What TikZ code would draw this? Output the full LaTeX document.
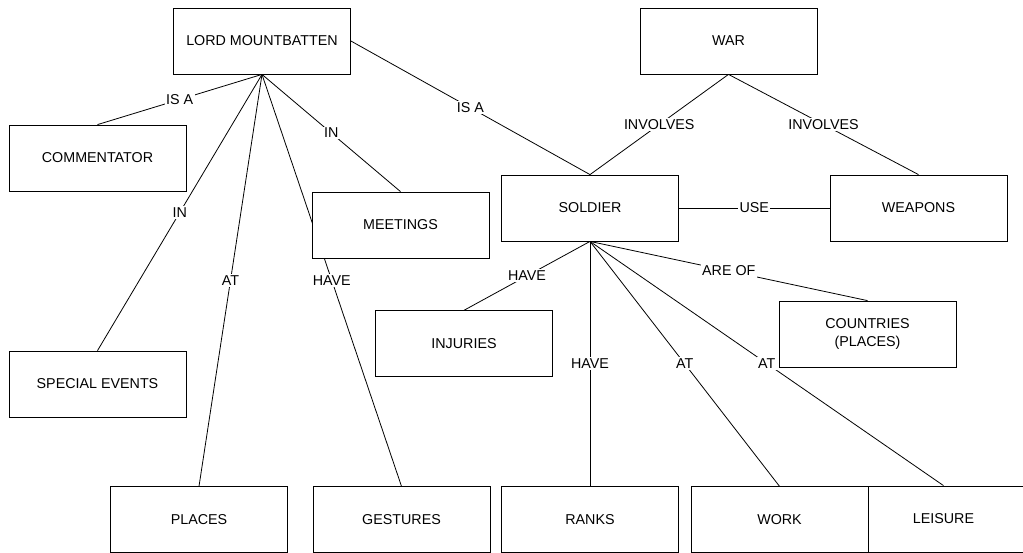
\documentclass[tikz,border=0pt]{standalone}
\usepackage{fontspec}
\setmainfont{Liberation Sans}
\begin{document}
\begin{tikzpicture}[x=1pt,y=-1pt,
  concept/.style={draw=black, line width=0.8pt, fill=white, minimum width=177pt, minimum height=66pt,
    inner sep=0pt, align=center, font=\fontsize{14.3}{17.7}\selectfont},
  link/.style={draw=black, line width=0.8pt},
  rel/.style={fill=white, inner sep=1.5pt, font=\fontsize{14.3}{17}\selectfont}]
\useasboundingbox (0,0) rectangle (1023,552);
\clip (0,0) rectangle (1023,552);

% concept boxes (LEISURE first so WORK overlaps it)
\node[concept] (lord) at (262,41) {LORD MOUNTBATTEN};
\node[concept] (war) at (728.5,41) {WAR};
\node[concept] (comm) at (97.5,158) {COMMENTATOR};
\node[concept] (special) at (97.5,384) {SPECIAL EVENTS};
\node[concept] (soldier) at (590,208) {SOLDIER};
\node[concept] (weapons) at (918.5,208) {WEAPONS};
\node[concept] (injuries) at (464,343.7) {INJURIES};
\node[concept] (countries) at (867.5,334) {COUNTRIES\\(PLACES)};
\node[concept] (places) at (199,519.7) {PLACES};
\node[concept] (gestures) at (401.5,519.7) {GESTURES};
\node[concept] (ranks) at (590,519.7) {RANKS};
\node[concept] (leisure) at (943.5,519) {LEISURE};
\node[concept] (work) at (779.5,519.7) {WORK};

% the HAVE link runs behind the MEETINGS box
\path[link] (lord.south) -- (gestures.north) node[rel, pos=0.5] {HAVE};
\node[concept] (meetings) at (400.5,225) {MEETINGS};

% links from LORD MOUNTBATTEN
\path[link] (lord.south) -- (comm.north) node[rel, pos=0.5] {IS A};
\path[link] (lord.south) -- (special.north) node[rel, pos=0.5] {IN};
\path[link] (lord.south) -- (places.north) node[rel, pos=0.5] {AT};
\path[link] (lord.south) -- (meetings.north) node[rel, pos=0.5] {IN};
\path[link] (lord.east) -- (soldier.north) node[rel, pos=0.5] {IS A};

% links from WAR
\path[link] (war.south) -- (soldier.north) node[rel, pos=0.5] {INVOLVES};
\path[link] (war.south) -- (weapons.north) node[rel, pos=0.5] {INVOLVES};
\path[link] (soldier.east) -- (weapons.west) node[rel, pos=0.5] {USE};

% links from SOLDIER
\path[link] (soldier.south) -- (injuries.north) node[rel, pos=0.5] {HAVE};
\path[link] (soldier.south) -- (ranks.north) node[rel, pos=0.5] {HAVE};
\path[link] (soldier.south) -- (work.north) node[rel, pos=0.5] {AT};
\path[link] (soldier.south) -- (leisure.north) node[rel, pos=0.5] {AT};
\path[link] (soldier.south) -- (countries.north) node[rel, pos=0.5] {ARE OF};
\end{tikzpicture}
\end{document}
